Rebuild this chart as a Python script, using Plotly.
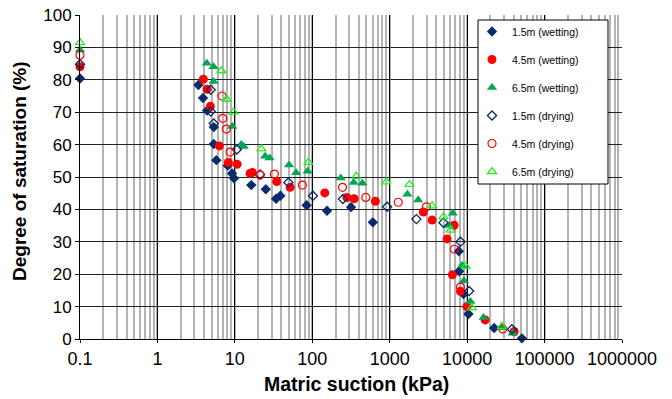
import plotly.graph_objects as go

# ---- data (matric suction kPa, degree of saturation %) ----
w15_x = [0.1, 3.38, 3.88, 4.37, 5.34, 5.34, 5.77, 8.09, 9.2, 9.76, 16.3, 25.1, 34.1, 38.7, 84.4, 155, 317, 605, 7815, 7880, 8960, 10400, 22300, 50900]
w15_y = [80.4, 78.4, 74.4, 70.5, 65.4, 60.2, 55.2, 53.5, 51.1, 49.6, 47.5, 46.2, 43.3, 44.2, 41.3, 39.6, 40.7, 36.0, 27.1, 20.9, 13.9, 7.7, 3.4, 0.2]

w45_x = [0.1, 3.92, 4.37, 4.83, 6.31, 8.24, 10.7, 15.7, 16.8, 34.8, 51.7, 145, 279, 347, 653, 2720, 3530, 6790, 5510, 6440, 8190, 9910, 17100, 40500]
w45_y = [84.0, 80.2, 77.1, 71.8, 59.6, 54.5, 53.9, 51.1, 51.4, 48.6, 46.8, 45.1, 43.7, 43.3, 42.5, 39.2, 36.7, 35.1, 30.9, 19.8, 14.7, 10.0, 5.9, 2.3]

w65_x = [0.1, 4.34, 5.31, 5.31, 9.28, 12.1, 13.0, 24.6, 28.1, 50.1, 61.8, 87.0, 233, 342, 444, 1690, 2330, 6530, 5850, 8620, 9090, 11000, 16300, 28100, 38900]
w65_y = [89.2, 85.1, 84.0, 79.5, 65.6, 60.0, 59.4, 56.4, 55.9, 53.7, 51.3, 51.8, 49.7, 48.3, 48.1, 44.7, 42.9, 38.8, 35.0, 22.7, 18.0, 11.6, 6.6, 3.5, 1.8]

d15_x = [0.1, 4.88, 4.88, 5.34, 10.6, 21.2, 49.1, 102, 248, 925, 2210, 4940, 8190, 10600, 37800]
d15_y = [84.8, 76.9, 70.2, 66.5, 58.5, 50.8, 48.3, 44.2, 43.2, 40.8, 37.0, 35.9, 30.0, 14.8, 3.0]

d45_x = [0.1, 6.83, 6.98, 7.77, 8.67, 21.2, 32.4, 74.5, 246, 491, 1290, 2980, 6850, 8190, 28900]
d45_y = [87.6, 75.0, 68.1, 64.8, 57.7, 50.6, 50.9, 47.5, 46.8, 43.7, 42.2, 40.8, 27.7, 16.0, 3.1]

d65_x = [0.1, 6.69, 7.86, 9.62, 22.0, 89.0, 370, 904, 1800, 3530, 4940, 6120, 9560, 11500, 28100]
d65_y = [91.5, 82.8, 74.0, 70.0, 58.7, 54.5, 50.2, 48.5, 47.7, 41.1, 37.7, 33.6, 22.4, 9.6, 3.8]

x_tickvals = [0.1, 1, 10, 100, 1000, 10000, 100000, 1000000]
x_ticktext = ["0.1", "1", "10", "100", "1000", "10000", "100000", "1000000"]

x_title = "Matric suction (kPa)"
y_title = "Degree of saturation (%)"

NAVY = "#0a2a6b"
RED = "#ff0000"
GREEN = "#00a651"
LIME = "#22ee22"

series = [
    ("1.5m (wetting)", w15_x, w15_y, "diamond", NAVY, 8, 0),
    ("4.5m (wetting)", w45_x, w45_y, "circle", RED, 9, 0),
    ("6.5m (wetting)", w65_x, w65_y, "triangle-up", GREEN, 9, 0),
    ("1.5m (drying)", d15_x, d15_y, "diamond-open", NAVY, 7, 1.3),
    ("4.5m (drying)", d45_x, d45_y, "circle-open", RED, 8, 1.2),
    ("6.5m (drying)", d65_x, d65_y, "triangle-up-open", LIME, 8, 1.3),
]

fig = go.Figure()
for i, (name, xs, ys, sym, col, sz, lw) in enumerate(series):
    fig.add_trace(go.Scatter(
        x=xs, y=ys, mode="markers", name=name, legendgroup=f"g{i}",
        cliponaxis=False,
        marker=dict(symbol=sym, color=col, size=sz,
                    line=dict(color=col, width=lw)),
    ))

FONT = "Liberation Sans, Arial, sans-serif"
# screen coords of plot area: left 80, right 622, top 15, bottom 339
def px(sx):
    return (sx - 80) / 542
def py(sy):
    return (339 - sy) / 324

fig.update_layout(
    width=672, height=399,
    margin=dict(l=80, r=50, t=15, b=60),
    paper_bgcolor="white", plot_bgcolor="white",
    font=dict(family=FONT, color="black"),
    showlegend=True,
    legend=dict(
        x=px(472), y=py(17), xanchor="left", yanchor="top",
        bgcolor="rgba(0,0,0,0)", borderwidth=0,
        font=dict(size=10.5, family=FONT),
        tracegroupgap=9, itemwidth=30,
    ),
    shapes=[dict(
        type="rect", xref="paper", yref="paper", layer="above",
        x0=px(478), x1=px(608), y0=py(184), y1=py(20),
        line=dict(color="black", width=1), fillcolor="white",
    )],
    annotations=[
        dict(text="<b>" + x_title + "</b>", xref="paper", yref="paper",
             x=px(356), y=py(384), xanchor="center", yanchor="middle",
             showarrow=False, font=dict(size=19.5, family=FONT)),
        dict(text="<b>" + y_title + "</b>", xref="paper", yref="paper",
             x=px(19), y=py(171), xanchor="center", yanchor="middle", textangle=-90,
             showarrow=False, font=dict(size=19, family=FONT)),
    ],
    xaxis=dict(
        type="log", range=[-1, 6], automargin=False,
        tickvals=x_tickvals, ticktext=x_ticktext, ticklabeloverflow="allow",
        tickfont=dict(size=18, family=FONT),
        ticks="outside", ticklen=3, tickcolor="black",
        showline=True, linecolor="black", linewidth=1,
        showgrid=True, gridcolor="black", gridwidth=1,
        minor=dict(dtick="D1", showgrid=True, gridcolor="#b4b4b4", gridwidth=1.5, ticks=""),
        zeroline=False,
    ),
    yaxis=dict(
        range=[0, 100], dtick=10, automargin=False, ticklabeloverflow="allow",
        tickfont=dict(size=17, family=FONT),
        ticks="outside", ticklen=4, tickcolor="black",
        showline=True, linecolor="black", linewidth=1,
        showgrid=True, gridcolor="#222222", gridwidth=1,
        zeroline=False,
    ),
)

fig.write_html(
    "out.html",
    config={"displayModeBar": False},
    post_script="document.body.style.margin='0';document.body.style.overflow='hidden';",
)
